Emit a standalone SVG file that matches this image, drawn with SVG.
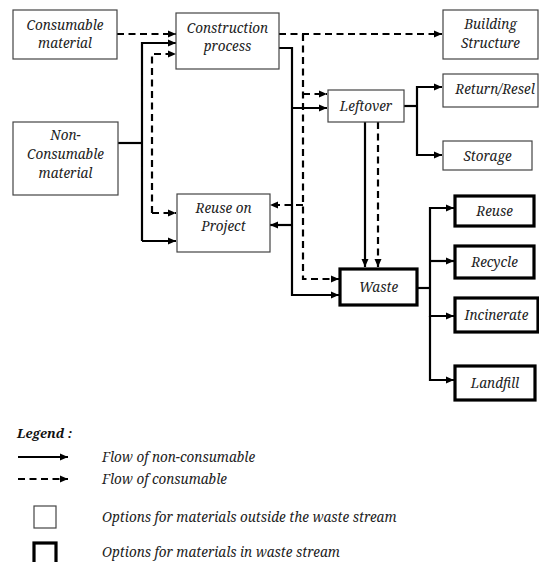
<svg xmlns="http://www.w3.org/2000/svg" width="539" height="562" viewBox="0 0 539 562">
<style>
.thin{fill:#fff;stroke:#444;stroke-width:1.2}
.thick{fill:#fff;stroke:#000;stroke-width:3.2}
text{font-family:'Noto Serif','DejaVu Serif',serif;font-style:italic;font-size:13.5px;fill:#222}
.t{text-anchor:middle}
.lg{font-weight:bold;font-size:13px;fill:#111}
.s{fill:none;stroke:#000;stroke-width:2.2}
.d{fill:none;stroke:#000;stroke-width:2.2;stroke-dasharray:7,4.5}
.a{marker-end:url(#ah)}
</style>
<defs>
<marker id="ah" markerUnits="userSpaceOnUse" markerWidth="10" markerHeight="10" refX="8" refY="4" orient="auto">
<path d="M0,0.5 L8,4 L0,7.5 Z" fill="#000"/>
</marker>
</defs>
<g id="connectors">
<path class="d a" d="M117,34 H176"/>
<path class="s" d="M118,143 H142"/>
<path class="s a" d="M142,241 V43 H176"/>
<path class="s a" d="M142,241 H176"/>
<path class="d a" d="M152,213 V54 H176"/>
<path class="d a" d="M152,213 H176"/>
<path class="d a" d="M279,34 H442"/>
<path class="d a" d="M303,34 V279 H339"/>
<path class="d a" d="M303,94 H327"/>
<path class="d a" d="M303,205 H270"/>
<path class="s a" d="M279,48 H292 V295 H339"/>
<path class="s a" d="M292,108 H327"/>
<path class="s a" d="M292,225 H270"/>
<path class="s" d="M404,106 H417"/>
<path class="s a" d="M417,106 V87 H442"/>
<path class="s a" d="M417,106 V155 H442"/>
<path class="s a" d="M365,122 V267"/>
<path class="d a" d="M378,122 V267"/>
<path class="s" d="M417,288 H430"/>
<path class="s a" d="M430,288 V208 H454"/>
<path class="s a" d="M430,261 H454"/>
<path class="s a" d="M430,288 V316 H454"/>
<path class="s a" d="M430,316 V380 H454"/>
</g>
<g id="consumable"><rect class="thin" x="13" y="10" width="104" height="49"/><text class="t" x="65" y="30">Consumable</text><text class="t" x="65" y="48">material</text></g>
<g id="nonconsumable"><rect class="thin" x="13" y="122" width="105" height="73"/><text class="t" x="65.5" y="140">Non-</text><text class="t" x="65.5" y="159">Consumable</text><text class="t" x="65.5" y="178">material</text></g>
<g id="construction"><rect class="thin" x="176" y="13" width="103" height="56"/><text class="t" x="227.5" y="33">Construction</text><text class="t" x="227.5" y="51">process</text></g>
<g id="reuseproject"><rect class="thin" x="177" y="194" width="93" height="58"/><text class="t" x="223.5" y="213">Reuse on</text><text class="t" x="223.5" y="231">Project</text></g>
<g id="building"><rect class="thin" x="443" y="10" width="95" height="49"/><text class="t" x="490.5" y="29">Building</text><text class="t" x="490.5" y="48">Structure</text></g>
<g id="leftover"><rect class="thin" x="328" y="90" width="76" height="32"/><text class="t" x="366" y="111">Leftover</text></g>
<g id="return"><rect class="thin" x="443" y="74" width="95" height="33"/><text class="t" x="495" y="94">Return/Resel</text></g>
<g id="storage"><rect class="thin" x="443" y="141" width="89" height="29"/><text class="t" x="487.5" y="161">Storage</text></g>
<g id="waste"><rect class="thick" x="340" y="269" width="77" height="36"/><text class="t" x="378.5" y="292">Waste</text></g>
<g id="reuse"><rect class="thick" x="455" y="196" width="79" height="30"/><text class="t" x="494.5" y="216">Reuse</text></g>
<g id="recycle"><rect class="thick" x="455" y="246" width="79" height="32"/><text class="t" x="494.5" y="267">Recycle</text></g>
<g id="incinerate"><rect class="thick" x="455" y="298" width="83" height="34"/><text class="t" x="496.5" y="320">Incinerate</text></g>
<g id="landfill"><rect class="thick" x="455" y="366" width="80" height="34"/><text class="t" x="495" y="388">Landfill</text></g>
<g id="legend">
<text class="lg" x="17" y="438">Legend :</text>
<path class="s a" d="M18,457 H68"/>
<path class="d a" d="M18,479 H68"/>
<rect class="thin" x="34" y="506" width="22" height="22"/>
<rect class="thick" x="34" y="543" width="22" height="24"/>
<text x="102" y="462">Flow of non-consumable</text>
<text x="102" y="484">Flow of consumable</text>
<text x="102" y="522">Options for materials outside the waste stream</text>
<text x="102" y="557">Options for materials in waste stream</text>
</g>
</svg>
